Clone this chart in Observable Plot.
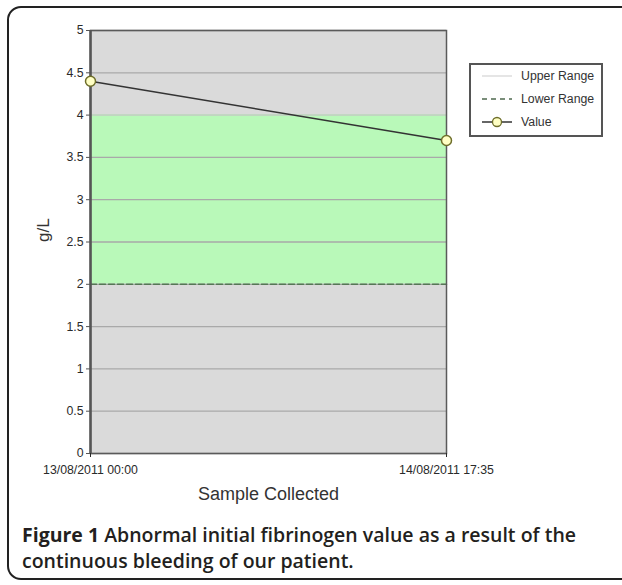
<!DOCTYPE html>
<html>
<head>
<meta charset="utf-8">
<script src="https://cdn.jsdelivr.net/npm/d3@7"></script>
<script src="https://cdn.jsdelivr.net/npm/@observablehq/plot@0.6"></script>
<style>
  html, body { margin: 0; padding: 0; background: #fff; }
  body { width: 622px; height: 585px; position: relative; overflow: hidden; }
  #border { position: absolute; left: 7px; top: 6px; width: 640px; height: 574px;
    border: 2px solid #222; border-radius: 14px; box-sizing: border-box; }
  #chart { position: absolute; left: 0; top: 0; }
  #legend { position: absolute; left: 469px; top: 63px; width: 134px; height: 74px;
    box-sizing: border-box; border: 2px solid #555; background: #fff;
    font-family: "Liberation Sans", Arial, sans-serif; font-size: 12.3px; color: #333; }
  .li { position: absolute; left: 0; height: 14px; display: flex; align-items: center; white-space: nowrap; }
  .li svg { margin-left: 11px; margin-right: 9px; }
  #caption { position: absolute; left: 22px; top: 522px; width: 600px; white-space: nowrap;
    font-family: "Open Sans", sans-serif; font-size: 19.5px; font-weight: 600; line-height: 26px; color: #231f20; }
  #caption b { font-weight: 700; }
</style>
</head>
<body>
<div id="border"></div>
<div id="chart"></div>
<div id="legend"></div>
<div id="caption"><b>Figure 1</b> Abnormal initial fibrinogen value as a result of the<br>continuous bleeding of our patient.</div>
<script>
const sampleTimes = ["2011-08-13T00:00:00Z", "2011-08-14T17:35:00Z"];
const values = [4.4, 3.7];
const upperRange = [4, 4];
const lowerRange = [2, 2];
const yTicks = [0, 0.5, 1, 1.5, 2, 2.5, 3, 3.5, 4, 4.5, 5];
const xTickLabels = ["13/08/2011 00:00", "14/08/2011 17:35"];
const seriesNames = ["Upper Range", "Lower Range", "Value"];

const data = sampleTimes.map((t, i) => ({
  time: new Date(t), value: values[i], upper: upperRange[i], lower: lowerRange[i]
}));
const xTicks = data.map(d => d.time);

const chart = Plot.plot({
  width: 622,
  height: 520,
  marginTop: 30,
  marginBottom: 67,
  marginLeft: 90,
  marginRight: 176,
  style: { fontFamily: "Liberation Sans, Arial, sans-serif", fontSize: "12.3px", color: "#2a2a2a", background: "transparent" },
  x: { type: "utc", domain: [xTicks[0], xTicks[1]] },
  y: { domain: [0, 5] },
  marks: [
    Plot.frame({ fill: "#dadada" }),
    Plot.areaY(data, { x: "time", y1: "lower", y2: "upper", fill: "#b9f9b9" }),
    Plot.ruleY(yTicks, { stroke: "#a9a9a9", strokeWidth: 1.3 }),
    Plot.lineY(data, { x: "time", y: "upper", stroke: "#cfe8cf", strokeWidth: 1 }),
    Plot.lineY(data, { x: "time", y: "lower", stroke: "#557755", strokeWidth: 1.5, strokeDasharray: "6,3" }),
    Plot.frame({ stroke: "#5a5a5a", strokeWidth: 1.5 }),
    Plot.axisY({ ticks: yTicks, tickSize: 4, tickPadding: 3, tickFormat: d => String(d), label: null, stroke: "#555" }),
    Plot.axisX({ ticks: xTicks, tickSize: 4, tickPadding: 8, tickFormat: (d, i) => xTickLabels[i], label: null, textAnchor: "middle" }),
    Plot.ruleX([xTicks[0]], { stroke: "#555", strokeWidth: 2.5 }),
    Plot.lineY(data, { x: "time", y: "value", stroke: "#333", strokeWidth: 1.6 }),
    Plot.dot(data, { x: "time", y: "value", r: 5, fill: "#ffffc4", stroke: "#6e6e2a", strokeWidth: 1.5 }),
    Plot.text(["Sample Collected"], { frameAnchor: "bottom", dy: 46, fontSize: 18, fill: "#333", fontFamily: "Liberation Sans, Arial, sans-serif" }),
    Plot.text(["g/L"], { frameAnchor: "left", dx: -47, rotate: -90, fontSize: 17, fill: "#333", fontFamily: "Liberation Sans, Arial, sans-serif" })
  ]
});
document.getElementById("chart").appendChild(chart);

// Legend (HTML)
const legend = document.getElementById("legend");
const swatches = [
  '<line x1="0" y1="7" x2="30" y2="7" stroke="#dcdcdc" stroke-width="1.5"/>',
  '<line x1="0" y1="7" x2="30" y2="7" stroke="#4f6a4f" stroke-width="1.3" stroke-dasharray="5,4"/>',
  '<line x1="0" y1="7" x2="30" y2="7" stroke="#333" stroke-width="1.5"/><circle cx="15" cy="7" r="4.5" fill="#ffffc4" stroke="#6e6e2a" stroke-width="1.3"/>'
];
seriesNames.forEach((name, i) => {
  const row = document.createElement("div");
  row.className = "li";
  row.style.top = (4 + i * 23) + "px";
  row.innerHTML = `<svg width="30" height="14">${swatches[i]}</svg><span>${name}</span>`;
  legend.appendChild(row);
});
</script>
</body>
</html>
